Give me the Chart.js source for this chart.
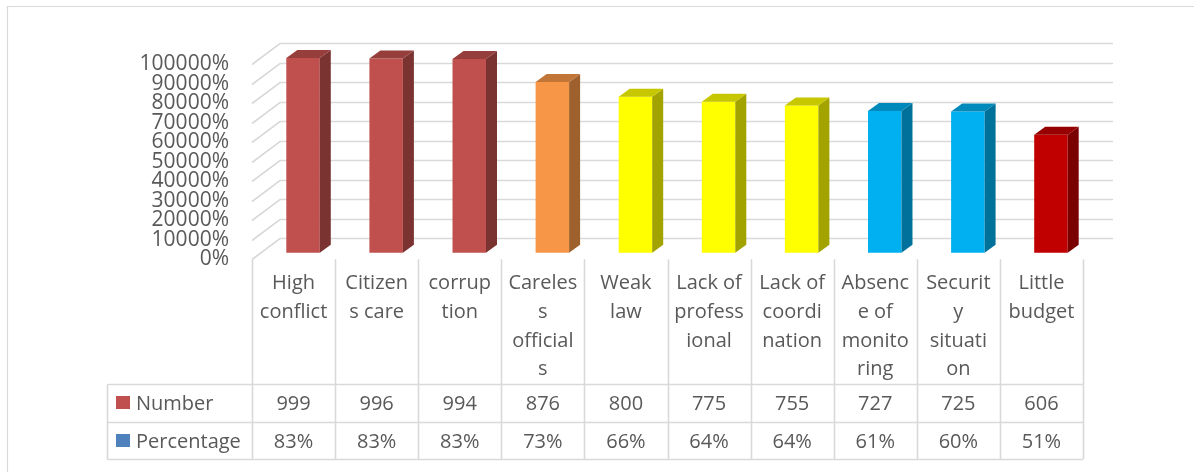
<!DOCTYPE html>
<html>
<head>
<meta charset="utf-8">
<script src="https://cdn.jsdelivr.net/npm/chart.js@4.4.1/dist/chart.umd.min.js"></script>
<style>
  html, body { margin: 0; padding: 0; background: #ffffff; }
  #wrap { width: 1194px; height: 472px; position: relative; }
</style>
</head>
<body>
<div id="wrap"><canvas id="chart" width="1194" height="472"></canvas></div>
<script>
// ---------- data ----------
const categories = [
  ["High", "conflict"],
  ["Citizen", "s care"],
  ["corrup", "tion"],
  ["Careles", "s", "official", "s"],
  ["Weak", "law"],
  ["Lack of", "profess", "ional"],
  ["Lack of", "coordi", "nation"],
  ["Absenc", "e of", "monito", "ring"],
  ["Securit", "y", "situati", "on"],
  ["Little", "budget"]
];
const numbers = [999, 996, 994, 876, 800, 775, 755, 727, 725, 606];
const percentages = [83, 83, 83, 73, 66, 64, 64, 61, 60, 51];
const seriesNames = ["Number", "Percentage"];
const yMin = 0, yMax = 1000, yStep = 100;

// ---------- styles ----------
const barColors = ["#C0504D", "#C0504D", "#C0504D", "#F79646", "#FFFF00",
                   "#FFFF00", "#FFFF00", "#00B0F0", "#00B0F0", "#C00000"];
const legendColors = ["#C0504D", "#4F81BD"];
const textColor = "#595959";
const lineColor = "#D9D9D9";
const FONT = '"Open Sans", "DejaVu Sans", sans-serif';

function shade(hex, f) {
  const n = parseInt(hex.slice(1), 16);
  const r = Math.round(((n >> 16) & 255) * f);
  const g = Math.round(((n >> 8) & 255) * f);
  const b = Math.round((n & 255) * f);
  return `rgb(${r},${g},${b})`;
}

const DX = 11, DY = -8;          // bar depth
const SX = 9.5, SY = -6.5;       // bar offset inside the floor
const WX = 28, WY = -21;         // wall depth

const threeD = {
  id: "threeD",
  beforeDatasetsDraw(chart) {
    const { ctx, chartArea: a, scales: { y } } = chart;
    ctx.save();
    ctx.strokeStyle = lineColor;
    ctx.lineWidth = 1.6;
    y.ticks.forEach(t => {
      const py = Math.round(y.getPixelForValue(t.value)) + 0.5;
      ctx.beginPath();
      ctx.moveTo(a.left, py);
      ctx.lineTo(a.left + WX, py + WY);
      ctx.lineTo(a.right + 30, py + WY);
      ctx.stroke();
    });
    ctx.restore();
    ctx.save();
    ctx.translate(SX, SY);
  },
  afterDatasetsDraw(chart) {
    const ctx = chart.ctx;
    const meta = chart.getDatasetMeta(0);
    meta.data.forEach((bar, i) => {
      const { x, y, base, width } = bar.getProps(["x", "y", "base", "width"], true);
      const l = x - width / 2, r = x + width / 2;
      const c = barColors[i];
      // side face
      ctx.fillStyle = shade(c, 0.64);
      ctx.beginPath();
      ctx.moveTo(r, y); ctx.lineTo(r + DX, y + DY);
      ctx.lineTo(r + DX, base + DY); ctx.lineTo(r, base);
      ctx.closePath(); ctx.fill();
      // top face
      ctx.fillStyle = shade(c, 0.78);
      ctx.beginPath();
      ctx.moveTo(l, y); ctx.lineTo(l + DX, y + DY);
      ctx.lineTo(r + DX, y + DY); ctx.lineTo(r, y);
      ctx.closePath(); ctx.fill();
    });
    ctx.restore();
  },
  afterDraw(chart) {
    const { ctx, chartArea: a, scales: { x } } = chart;
    const n = categories.length;
    const colW = (a.right - a.left) / n;
    const legendLeft = 107.5, rowTop = 384.5, rowMid = 422.5, rowBottom = 459.5;
    ctx.save();
    // frame
    ctx.strokeStyle = lineColor;
    ctx.lineWidth = 1.2;
    ctx.beginPath();
    ctx.moveTo(7.5, 472); ctx.lineTo(7.5, 6.5); ctx.lineTo(1194, 6.5);
    ctx.stroke();
    // table grid
    ctx.lineWidth = 1.6;
    ctx.beginPath();
    for (let i = 0; i <= n; i++) {
      const bx = Math.round(a.left + i * colW) + 0.5;
      ctx.moveTo(bx, a.bottom);
      ctx.lineTo(bx, rowBottom);
    }
    ctx.moveTo(legendLeft, rowTop); ctx.lineTo(legendLeft, rowBottom);
    [rowTop, rowMid, rowBottom].forEach(yy => {
      ctx.moveTo(legendLeft, yy); ctx.lineTo(a.right, yy);
    });
    ctx.stroke();
    // values
    ctx.fillStyle = textColor;
    ctx.font = "20px " + FONT;
    ctx.textAlign = "center";
    ctx.textBaseline = "alphabetic";
    numbers.forEach((v, i) => {
      ctx.fillText(String(v), x.getPixelForValue(i), 410);
    });
    percentages.forEach((v, i) => {
      ctx.fillText(v + "%", x.getPixelForValue(i), 448);
    });
    // legend cells
    ctx.textAlign = "left";
    [410, 448].forEach((yy, k) => {
      ctx.fillStyle = legendColors[k];
      ctx.fillRect(116, yy - 14, 14, 13);
      ctx.fillStyle = textColor;
      ctx.fillText(seriesNames[k], 136, yy);
    });
    ctx.restore();
  }
};

new Chart(document.getElementById("chart"), {
  type: "bar",
  data: {
    labels: categories,
    datasets: [{
      label: seriesNames[0],
      data: numbers,
      backgroundColor: barColors,
      borderWidth: 0,
      barPercentage: 0.403,
      categoryPercentage: 1,
      clip: false
    }]
  },
  options: {
    responsive: false,
    devicePixelRatio: 1,
    animation: false,
    layout: { padding: { top: 64.3, right: 111, left: 0, bottom: 0 } },
    plugins: { legend: { display: false }, tooltip: { enabled: false } },
    scales: {
      x: {
        grid: { display: false, drawTicks: false },
        border: { display: false },
        ticks: {
          color: textColor,
          font: { family: FONT, size: 20, lineHeight: 1.435 },
          padding: 10,
          maxRotation: 0,
          minRotation: 0,
          autoSkip: false
        },
        afterFit(axis) { axis.height = 472 - 259.3; }
      },
      y: {
        min: yMin,
        max: yMax,
        grid: { display: false, drawTicks: false },
        border: { display: false },
        ticks: {
          stepSize: yStep,
          autoSkip: false,
          color: textColor,
          font: { family: FONT, size: 21, lineHeight: 1 },
          padding: 23,
          callback: v => (v * 100) + "%"
        },
        afterFit(axis) { axis.width = 252; }
      }
    }
  },
  plugins: [threeD]
});
</script>
</body>
</html>
